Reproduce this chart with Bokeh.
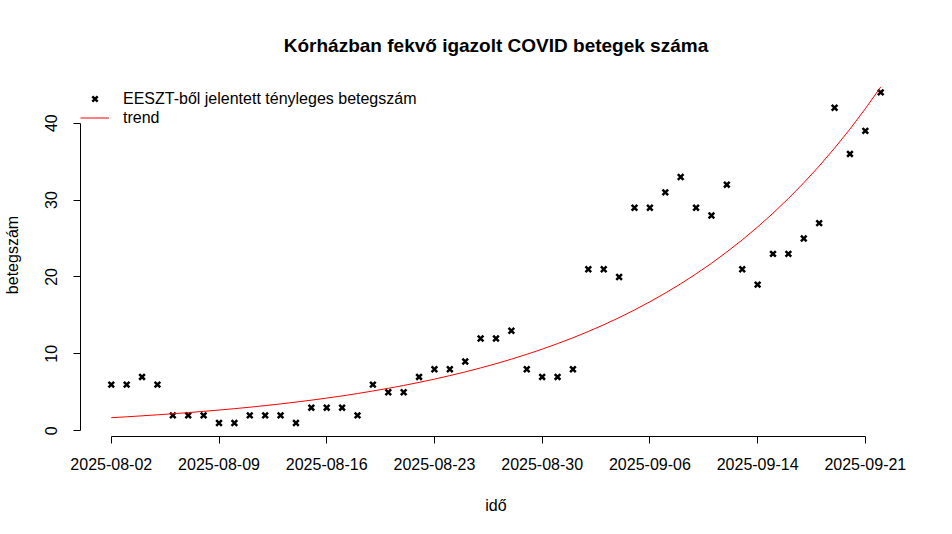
import datetime as dt
from bokeh.plotting import figure
from bokeh.models import Range1d, FixedTicker, Legend, LegendItem, ColumnDataSource, Title
from bokeh.embed import file_html
from bokeh.resources import INLINE

# --- data -------------------------------------------------------------
_start = dt.date(2025, 8, 2)
_all_days = [_start + dt.timedelta(days=i) for i in range(52)]
dates = [d.isoformat() for d in _all_days if d != dt.date(2025, 9, 7)]  # one day missing in the report

patients = [6, 6, 7, 6, 2, 2, 2, 1, 1, 2, 2, 2, 1, 3, 3, 3, 2,
            6, 5, 5, 7, 8, 8, 9, 12, 12, 13, 8, 7, 7, 8,
            21, 21, 20, 29, 29, 31, 33, 29, 28, 32, 21, 19, 23, 23,
            25, 27, 42, 36, 39, 44]

trend = [1.70, 1.81, 1.94, 2.07, 2.21, 2.36, 2.52, 2.69, 2.87, 3.06,
         3.27, 3.49, 3.73, 3.98, 4.25, 4.53, 4.84, 5.17, 5.52, 5.89,
         6.29, 6.71, 7.17, 7.65, 8.17, 8.72, 9.31, 9.94, 10.61, 11.33,
         12.09, 12.91, 13.78, 14.71, 15.71, 16.77, 17.90, 19.11, 20.40, 21.78,
         23.25, 24.82, 26.50, 28.29, 30.20, 32.24, 34.42, 36.75, 39.23, 41.88,
         44.71]

tick_labels = ["2025-08-02", "2025-08-09", "2025-08-16", "2025-08-23",
               "2025-08-30", "2025-09-06", "2025-09-14", "2025-09-21"]
y_ticks = [0, 10, 20, 30, 40]

idx = list(range(len(dates)))
tick_idx = [dates.index(t) for t in tick_labels]

FONT = "Liberation Sans"

src = ColumnDataSource(dict(x=idx, y=patients, t=trend, d=dates))

n = len(idx)
ymin = min(patients)
ymax = max(trend)
p = figure(width=952, height=534, output_backend="svg", toolbar_location=None,
           x_range=Range1d(-0.04 * (n - 1), (n - 1) * 1.04),
           y_range=Range1d(ymin - 0.04 * (ymax - ymin), ymax + 0.04 * (ymax - ymin)),
           min_border_left=79, min_border_right=41, min_border_top=73, min_border_bottom=98)
p.outline_line_color = None
p.xgrid.visible = False
p.ygrid.visible = False
p.background_fill_color = "white"
p.border_fill_color = "white"

p.title = Title(text="Kórházban fekvő igazolt COVID betegek száma", align="center",
                text_font=FONT, text_font_size="19px", text_font_style="bold",
                text_color="black", standoff=36)

r_pts = p.scatter("x", "y", source=src, marker="x", size=8, line_width=2.5, color="black")
r_line = p.line("x", "t", source=src, line_color="red", line_width=1)

# axes
xa = p.xaxis[0]
xa.ticker = FixedTicker(ticks=tick_idx)
xa.major_label_overrides = {i: dates[i] for i in tick_idx}
xa.bounds = (tick_idx[0], tick_idx[-1])
xa.axis_label = "idő"
ya = p.yaxis[0]
ya.ticker = FixedTicker(ticks=y_ticks)
ya.bounds = (y_ticks[0], y_ticks[-1])
ya.axis_label = "betegszám"
ya.major_label_orientation = "vertical"
for ax in (xa, ya):
    ax.minor_tick_line_color = None
    ax.major_tick_in = 0
    ax.major_tick_out = 7
    ax.axis_line_color = "black"
    ax.major_tick_line_color = "black"
    ax.major_label_text_font = FONT
    ax.major_label_text_font_size = "16px"
    ax.major_label_text_color = "black"
    ax.axis_label_text_font = FONT
    ax.axis_label_text_font_size = "16px"
    ax.axis_label_text_font_style = "normal"
    ax.axis_label_text_color = "black"
xa.major_label_standoff = 14
xa.axis_label_standoff = 24
ya.major_label_standoff = 16
ya.axis_label_standoff = 22

legend = Legend(items=[LegendItem(label="EESZT-ből jelentett tényleges betegszám", renderers=[r_pts]),
                       LegendItem(label="trend", renderers=[r_line])],
                location=(0, 309), margin=0, padding=4, spacing=-1,
                glyph_width=29, glyph_height=19, label_height=19, label_standoff=14,
                label_text_font=FONT, label_text_font_size="16px", label_text_color="black",
                border_line_color=None, background_fill_alpha=0)
p.add_layout(legend, "center")

open("out.html", "w").write(file_html(p, INLINE))
